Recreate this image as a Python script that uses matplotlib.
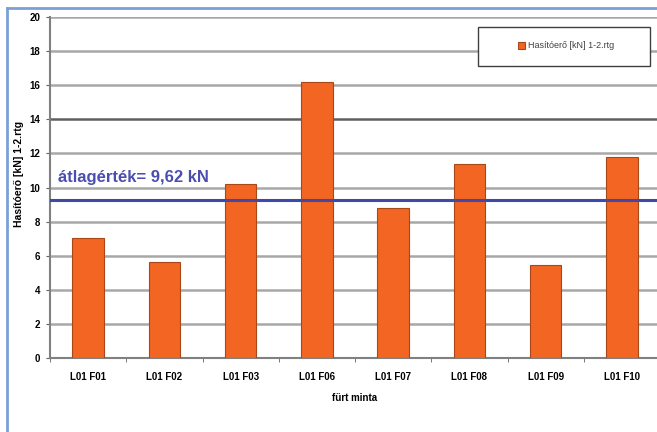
import numpy as np
import matplotlib
matplotlib.use('Agg')
import matplotlib.pyplot as plt
from matplotlib.lines import Line2D
from matplotlib.patches import Rectangle

plt.rcParams['font.family'] = ['Liberation Sans', 'DejaVu Sans']

# adatok
mintak = ['L01 F01', 'L01 F02', 'L01 F03', 'L01 F06', 'L01 F07', 'L01 F08', 'L01 F09', 'L01 F10']
hasitoero = [7.05, 5.65, 10.2, 16.2, 8.8, 11.4, 5.45, 11.8]
atlag_vonal = 9.25
atlag_szoveg = 'átlagérték= 9,62 kN'

fig = plt.figure(figsize=(6.57, 4.32), dpi=100)
ax = fig.add_axes([50 / 657, 1 - 358 / 432, 610 / 657, (358 - 17) / 432])

x = np.arange(len(mintak))
ax.bar(x, hasitoero, width=0.41, color='#F26522', edgecolor='#A84818', linewidth=0.8,
       zorder=3, label='Hasítóerő [kN] 1-2.rtg')

ax.set_ylim(0, 20)
ax.set_xlim(-0.5, len(mintak) - 0.5)
ax.set_yticks(np.arange(0, 21, 2))
ax.set_yticklabels([str(v) for v in range(0, 21, 2)], fontsize=7, fontweight='bold')
ax.set_xticks(x)
ax.set_xticklabels(mintak, fontsize=7, fontweight='bold')
ax.set_xticks(np.arange(-0.5, len(mintak), 1), minor=True)
ax.tick_params(axis='x', which='major', length=0, pad=10)
ax.tick_params(axis='x', which='minor', length=3, color='#606060')
ax.tick_params(axis='y', length=3, color='#606060', pad=4)

for v in range(2, 21, 2):
    c = '#606060' if v == 14 else '#a8a8a8'
    ax.axhline(v, color=c, linewidth=1.8, zorder=1)

ax.axhline(atlag_vonal, color='#4048A8', linewidth=2.2, zorder=4)
ax.text(-0.4, 10.3, atlag_szoveg, color='#4A4EB0', fontsize=12,
        fontweight='bold', zorder=5)

for s in ['top', 'right']:
    ax.spines[s].set_visible(False)
ax.spines['left'].set_color('#808080')
ax.spines['left'].set_linewidth(1.5)
ax.spines['bottom'].set_color('#808080')
ax.spines['bottom'].set_linewidth(1.5)

ax.set_ylabel('Hasítóerő [kN] 1-2.rtg', fontsize=7.5, fontweight='bold')
ax.yaxis.set_label_coords(-26 / 610, 0.54)
ax.set_xlabel('fürt minta', fontsize=7, fontweight='bold', labelpad=8)

# jelmagyarázat keret
fig.add_artist(Rectangle((478 / 657, 1 - 66 / 432), 172 / 657, 39 / 432,
                         transform=fig.transFigure, facecolor='white',
                         edgecolor='#404040', linewidth=1.0, zorder=5))
leg = ax.legend(loc='center', bbox_to_anchor=(566 / 657, 1 - 46 / 432),
                bbox_transform=fig.transFigure, fontsize=6.5, frameon=False,
                handlelength=0.8, handleheight=0.8, handletextpad=0.3)
for t in leg.get_texts():
    t.set_color('#404040')
leg.set_zorder(6)
fig.add_artist(leg)

# kék keret
fig.add_artist(Line2D([7 / 657, 7 / 657], [0, 1 - 8 / 432], color='#7BA0D8', linewidth=2))
fig.add_artist(Line2D([7 / 657, 1], [1 - 8 / 432, 1 - 8 / 432], color='#7BA0D8', linewidth=2))

fig.savefig('out.png', dpi=100)
